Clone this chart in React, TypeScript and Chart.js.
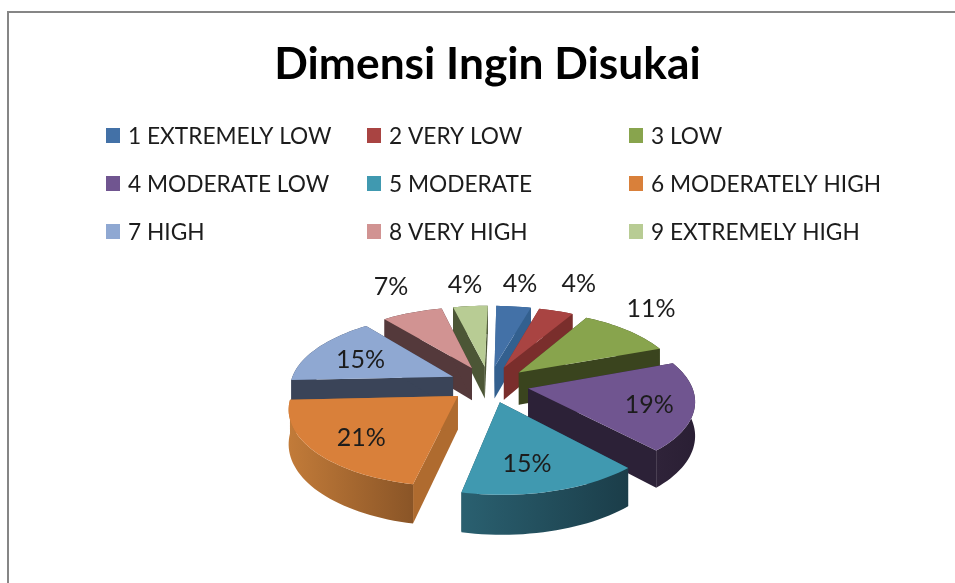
import React, { useEffect, useRef } from "react";
import { Chart, registerables } from "chart.js";

Chart.register(...registerables);

const categories = [
  "1 EXTREMELY LOW", "2 VERY LOW", "3 LOW",
  "4 MODERATE LOW", "5 MODERATE", "6 MODERATELY HIGH",
  "7 HIGH", "8 VERY HIGH", "9 EXTREMELY HIGH",
];
const percentages = [4, 4, 11, 19, 15, 21, 15, 7, 4];
const topColors = ["#4371A7", "#A94442", "#88A44D", "#705590", "#4099B0", "#D9803A", "#8FA8D2", "#D19392", "#B8CC94"];
const radialColors = ["#33608F", "#7A2E2C", "#3A441E", "#2C2137", "#1E4A58", "#AF6B2F", "#3A4458", "#54393B", "#4C5636"];
const wallLeftColors = ["#33608F", "#7A2E2C", "#3A441E", "#2F2339", "#2A6070", "#C27B39", "#3A4458", "#54393B", "#4C5636"];
const wallRightColors = ["#33608F", "#7A2E2C", "#3A441E", "#2A1F34", "#1B3D49", "#8A5527", "#3A4458", "#54393B", "#4C5636"];
const labelDistance = [280, 297, 273, 160, 155, 157, 147, 292, 274];
const labelAngleShift = [-0.3, -0.6, -5.6, 1.4, 2.9, -2, -1, 1.6, 0];

const FONT = "Lato, Carlito, sans-serif";
const TILT = 0.4537;
const PERSPECTIVE = 0.000864;
const DEPTH = 33;
const CENTER_NUDGE = 1.5;

const project = (cx: number, cy: number, u: number, v: number) => {
  const f = 1 / (1 - PERSPECTIVE * v);
  return { x: cx + u * f, y: cy + TILT * v * f, f };
};

const tracePoly = (ctx: CanvasRenderingContext2D, pts: { x: number; y: number }[]) => {
  ctx.beginPath();
  pts.forEach((p, i) => (i ? ctx.lineTo(p.x, p.y) : ctx.moveTo(p.x, p.y)));
  ctx.closePath();
};

const pie3d = {
  id: "pie3d",
  beforeDraw(chart: any) {
    const { ctx, width, height } = chart;
    ctx.save();
    ctx.fillStyle = "#ffffff";
    ctx.fillRect(0, 0, width, height);
    ctx.fillStyle = "#868686";
    ctx.fillRect(7, 11, width - 7, 2);
    ctx.fillRect(7, 11, 2, height - 11);
    ctx.restore();
  },
  beforeDatasetDraw(chart: any, args: any) {
    const { ctx } = chart;
    const arcs = args.meta.data;
    const geom = arcs.map((el: any, i: number) => {
      const mid = (el.startAngle + el.endAngle) / 2;
      const off = el.options.offset;
      return { i, el, mid, ou: Math.cos(mid) * off, ov: Math.sin(mid) * off };
    });
    const order = [...geom].sort((a: any, b: any) => a.ov - b.ov);
    ctx.save();
    order.forEach((g: any) => {
      const { el, i, ou, ov } = g;
      const cx = el.x + CENTER_NUDGE;
      const cy = el.y;
      const R = el.outerRadius;
      const steps = Math.max(4, Math.ceil(((el.endAngle - el.startAngle) * 180) / Math.PI / 2));
      const arcTop: { x: number; y: number; f: number }[] = [];
      for (let s = 0; s <= steps; s++) {
        const a = el.startAngle + ((el.endAngle - el.startAngle) * s) / steps;
        arcTop.push(project(cx, cy, ou + R * Math.cos(a), ov + R * Math.sin(a)));
      }
      const down = (p: { x: number; y: number; f: number }) => ({ x: p.x, y: p.y + DEPTH * p.f, f: p.f });
      const apex = project(cx, cy, ou, ov);
      const first = arcTop[0];
      const last = arcTop[arcTop.length - 1];
      ctx.fillStyle = radialColors[i];
      tracePoly(ctx, [apex, first, down(first), down(apex)]);
      ctx.fill();
      tracePoly(ctx, [apex, last, down(last), down(apex)]);
      ctx.fill();
      const xs = arcTop.map((p) => p.x);
      const grad = ctx.createLinearGradient(Math.min(...xs), 0, Math.max(...xs), 0);
      grad.addColorStop(0, wallLeftColors[i]);
      grad.addColorStop(1, wallRightColors[i]);
      ctx.fillStyle = grad;
      tracePoly(ctx, [...arcTop, ...arcTop.map(down).reverse()]);
      ctx.fill();
      ctx.fillStyle = el.options.backgroundColor;
      tracePoly(ctx, [apex, ...arcTop]);
      ctx.fill();
    });
    ctx.fillStyle = "#1c1c1c";
    ctx.font = `25px ${FONT}`;
    ctx.textAlign = "center";
    ctx.textBaseline = "middle";
    geom.forEach((g: any) => {
      const d = labelDistance[g.i];
      const a = g.mid + (labelAngleShift[g.i] * Math.PI) / 180;
      const p = project(g.el.x + CENTER_NUDGE, g.el.y, Math.cos(a) * d, Math.sin(a) * d);
      ctx.fillText(`${percentages[g.i]}%`, p.x, p.y + 1);
    });
    ctx.restore();
    return false;
  },
  afterDraw(chart: any) {
    const { ctx } = chart;
    const colX = [106, 367, 629];
    const rowY = [135, 183, 231];
    ctx.save();
    ctx.font = `22.7px ${FONT}`;
    ctx.textBaseline = "middle";
    ctx.textAlign = "left";
    chart.data.labels.forEach((label: string, i: number) => {
      const x = colX[i % 3];
      const y = rowY[Math.floor(i / 3)];
      ctx.fillStyle = chart.data.datasets[0].backgroundColor[i];
      ctx.fillRect(x, y - 7, 14, 15);
      ctx.fillStyle = "#1c1c1c";
      ctx.fillText(label, x + 22, y + 1.5);
    });
    ctx.restore();
  },
};

export default function App() {
  const ref = useRef<HTMLCanvasElement>(null);
  useEffect(() => {
    const chart = new Chart(ref.current as HTMLCanvasElement, {
      type: "pie",
      data: {
        labels: categories,
        datasets: [
          {
            data: percentages,
            backgroundColor: topColors,
            borderWidth: 0,
            offset: 40,
            radius: 163,
            clip: false,
          } as any,
        ],
      },
      options: {
        animation: false,
        responsive: false,
        devicePixelRatio: 1,
        rotation: 1,
        layout: { padding: { left: 95, right: 75, top: 0, bottom: 0 } },
        plugins: {
          legend: { display: false },
          tooltip: { enabled: false },
          title: {
            display: true,
            text: "Dimensi Ingin Disukai",
            color: "#000000",
            font: { family: FONT, size: 44.3, weight: "bold", lineHeight: 1.2 },
            padding: { top: 38, bottom: 94 },
          },
        },
      },
      plugins: [pie3d],
    } as any);
    return () => chart.destroy();
  }, []);
  return (
    <div style={{ position: "fixed", left: 0, top: 0, width: 955, height: 583, background: "#fff" }}>
      <canvas ref={ref} width={955} height={583} style={{ display: "block", filter: "blur(0.45px)" }} />
    </div>
  );
}
